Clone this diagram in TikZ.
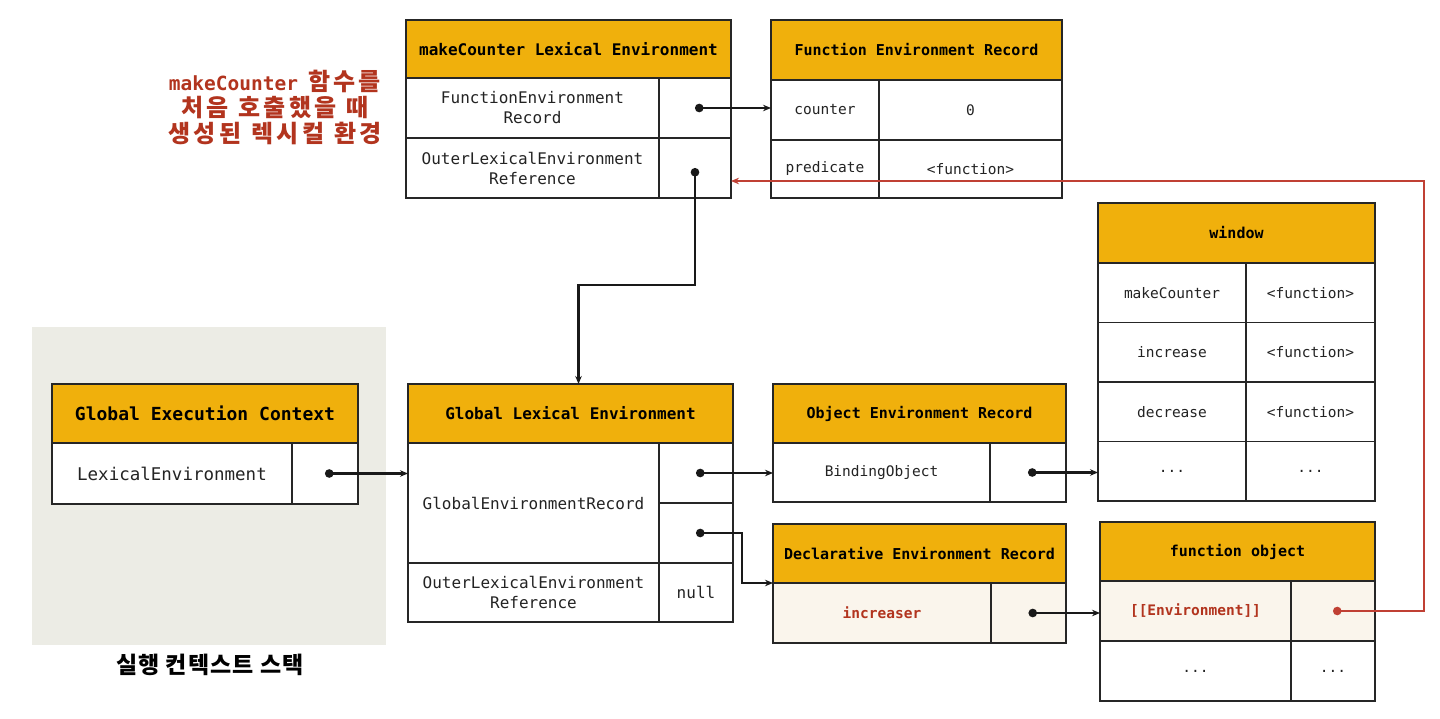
\documentclass[tikz,border=0pt]{standalone}
\usepackage{fontspec}
\setmonofont{DejaVu Sans Mono}
\newfontfamily\kr[LetterSpace=14]{Noto Sans CJK KR}
\newfontfamily\krs[LetterSpace=5]{Noto Sans CJK KR}
\usetikzlibrary{arrows.meta,calc}
\definecolor{hdrc}{RGB}{240,176,12}
\definecolor{redt}{RGB}{178,52,30}
\definecolor{redl}{RGB}{192,64,52}
\definecolor{beige}{RGB}{250,245,236}
\definecolor{panel}{RGB}{236,236,229}
\definecolor{txt}{RGB}{35,35,35}
\begin{document}
\begin{tikzpicture}[x=1pt,y=-1pt,
  box/.style={draw=black!85, line width=1.3pt, anchor=north west, inner sep=0pt, outer sep=0pt, align=center, text=txt, font=\fontsize{14.5}{20}\selectfont\ttfamily},
  hdr/.style={box, fill=hdrc, text=black, font=\fontsize{15}{18}\selectfont\ttfamily\bfseries},
  cell/.style={box, fill=white},
  bcell/.style={box, fill=beige},
  big/.style={font=\fontsize{16}{20}\selectfont\ttfamily},
  bighdr/.style={font=\fontsize{16}{20}\selectfont\ttfamily\bfseries},
  redtxt/.style={text=redt, font=\fontsize{14.5}{20}\selectfont\ttfamily\bfseries},
  link/.style={line width=2.2pt, draw=black!90, {Circle[length=8.5pt]}-{Stealth[length=8pt,width=6.5pt]}},
  redlink/.style={link, draw=redl, line width=1.4pt},
]
\useasboundingbox (0,0) rectangle (1440,719);
\fill[white] (0,0) rectangle (1440,719);

% execution context stack panel
\node[fill=panel, anchor=north west, minimum width=354, minimum height=318, inner sep=0pt] (panel) at (32,327) {};
\node[font=\fontsize{23}{26}\selectfont\krs\bfseries, text=black] (stk) at (210,665) {실행 컨텍스트 스택};

% red label
\node[align=center, text=redt, font=\fontsize{24}{26}\selectfont\kr\bfseries] (lbl) at (275,107)
  {{\fontsize{19.5}{26}\selectfont\ttfamily\bfseries makeCounter}\hspace{10pt}함수를\\
   처음\hspace{10pt}호출했을\hspace{10pt}때\\
   생성된\hspace{10pt}렉시컬\hspace{10pt}환경};

% makeCounter Lexical Environment
\node[hdr, bighdr, minimum width=325, minimum height=58] (mcH) at (406,20) {makeCounter Lexical Environment};
\node[cell, big, minimum width=253, minimum height=60] (mcR1) at (406,78) {FunctionEnvironment\\Record};
\node[cell, minimum width=72, minimum height=60] (mcP1) at (659,78) {};
\node[cell, big, minimum width=253, minimum height=60] (mcR2) at (406,138) {OuterLexicalEnvironment\\Reference};
\node[cell, minimum width=72, minimum height=60] (mcP2) at (659,138) {};

% Function Environment Record
\node[hdr, minimum width=291, minimum height=60] (ferH) at (771,20) {Function Environment Record};
\node[cell, minimum width=108, minimum height=60] (ferR1) at (771,80) {counter};
\node[cell, minimum width=183, minimum height=60] (ferV1) at (879,80) {0};
\node[cell, minimum width=108, minimum height=58] (ferR2) at (771,140) {predicate};
\node[cell, minimum width=183, minimum height=58] (ferV2) at (879,140) {<function>};

% window
\node[hdr, minimum width=277, minimum height=60] (winH) at (1098,203) {window};
\node[cell, minimum width=148, minimum height=59.5] (winR1) at (1098,263) {makeCounter};
\node[cell, minimum width=129, minimum height=59.5] (winV1) at (1246,263) {<function>};
\node[cell, minimum width=148, minimum height=59.5] (winR2) at (1098,322.5) {increase};
\node[cell, minimum width=129, minimum height=59.5] (winV2) at (1246,322.5) {<function>};
\node[cell, minimum width=148, minimum height=59.5] (winR3) at (1098,382) {decrease};
\node[cell, minimum width=129, minimum height=59.5] (winV3) at (1246,382) {<function>};
\node[cell, minimum width=148, minimum height=59.5] (winR4) at (1098,441.5) {...};
\node[cell, minimum width=129, minimum height=59.5] (winV4) at (1246,441.5) {...};

% Global Execution Context
\node[hdr, font=\fontsize{18}{20}\selectfont\ttfamily\bfseries, minimum width=306, minimum height=59] (gecH) at (52,384) {Global Execution Context};
\node[cell, font=\fontsize{17.5}{20}\selectfont\ttfamily, minimum width=240, minimum height=61] (gecR) at (52,443) {LexicalEnvironment};
\node[cell, minimum width=66, minimum height=61] (gecP) at (292,443) {};

% Global Lexical Environment
\node[hdr, bighdr, minimum width=325, minimum height=59] (gleH) at (408,384) {Global Lexical Environment};
\node[cell, big, minimum width=251, minimum height=120] (gleR1) at (408,443) {GlobalEnvironmentRecord};
\node[cell, minimum width=74, minimum height=60] (gleP1) at (659,443) {};
\node[cell, minimum width=74, minimum height=60] (gleP2) at (659,503) {};
\node[cell, big, minimum width=251, minimum height=59] (gleR2) at (408,563) {OuterLexicalEnvironment\\Reference};
\node[cell, big, minimum width=74, minimum height=59] (gleV2) at (659,563) {null};

% Object Environment Record
\node[hdr, minimum width=293, minimum height=59] (oerH) at (773,384) {Object Environment Record};
\node[cell, minimum width=217, minimum height=59] (oerR) at (773,443) {BindingObject};
\node[cell, minimum width=76, minimum height=59] (oerP) at (990,443) {};

% Declarative Environment Record
\node[hdr, minimum width=293, minimum height=59] (derH) at (773,524) {Declarative Environment Record};
\node[bcell, redtxt, minimum width=218, minimum height=60] (derR) at (773,583) {increaser};
\node[bcell, minimum width=75, minimum height=60] (derP) at (991,583) {};

% function object
\node[hdr, minimum width=275, minimum height=59] (foH) at (1100,522) {function object};
\node[bcell, redtxt, minimum width=191, minimum height=60] (foR1) at (1100,581) {[[Environment]]};
\node[bcell, minimum width=84, minimum height=60] (foP1) at (1291,581) {};
\node[cell, minimum width=191, minimum height=60] (foR2) at (1100,641) {...};
\node[cell, minimum width=84, minimum height=60] (foV2) at (1291,641) {...};

% connectors
\draw[link] (mcP1.center) -- (mcP1.center -| ferR1.west);
\draw[link] (mcP2.center) -- ++(0,117) -| ([xshift=8pt]gleH.north);
\draw[link] (gecP.center) -- (gecP.center -| gleR1.west);
\draw[link] (gleP1.center) -- (gleP1.center -| oerR.west);
\coordinate (k) at (742,583);
\draw[link] (gleP2.center) -| (k) -- (derH.south west);
\draw[link] (oerP.center) -- (oerP.center -| winR4.west);
\draw[link] (derP.center) -- (derP.center -| foR1.west);
\coordinate (rc) at (1424,181);
\draw[redlink] (foP1.center) -| (rc) -- (rc -| mcP2.east);
\end{tikzpicture}
\end{document}
